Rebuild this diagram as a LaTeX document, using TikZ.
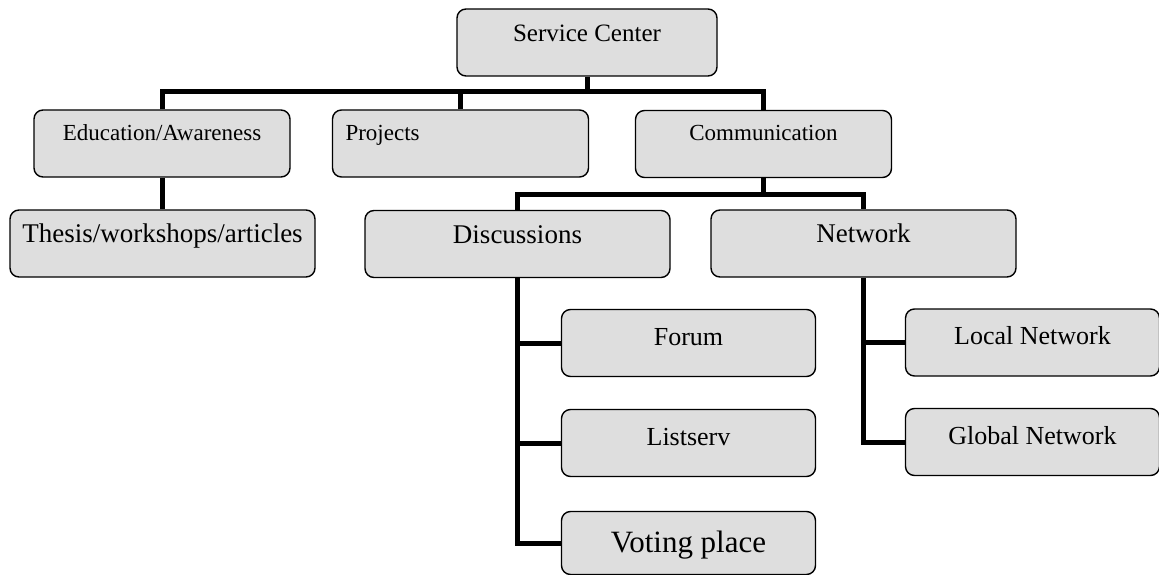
\documentclass[tikz,border=0pt]{standalone}
\usepackage{fontspec}
\setmainfont{Liberation Serif}
\usepackage{tikz}

\begin{document}
\begin{tikzpicture}[x=1pt,y=-1pt,
                    box/.style={draw, line width=1.4pt, rounded corners=9pt, fill=black!13,
                                minimum height=67pt, inner sep=3pt},
                    head/.style={box, minimum width=260pt, font=\fontsize{25}{30}\selectfont,
                                 text height=17pt, text depth=19.5pt},
                    area/.style={box, minimum width=256pt, font=\fontsize{23}{28}\selectfont,
                                 text height=16pt, text depth=23pt},
                    branch/.style={box, minimum width=305pt, font=\fontsize{27}{32}\selectfont,
                                   text height=19pt, text depth=21pt},
                    leaf/.style={box, minimum width=254pt, font=\fontsize{26}{31}\selectfont,
                                 text height=19pt, text depth=15pt},
                    link/.style={draw, line width=5pt}]
\useasboundingbox (0,0) rectangle (1159,575);
\node[head] (svc) at (587,42.5) {Service Center};
\node[area] (edu) at (162,143.5) {Education/Awareness};
\node[area, text width=230pt, align=left] (proj) at (460.5,143.5) {Projects};
\node[area] (comm) at (763.5,144) {Communication};
\node[branch] (thesis) at (162.5,243.5) {Thesis/workshops/articles};
\node[branch] (disc) at (517.5,244) {Discussions};
\node[branch] (net) at (863.5,243.5) {Network};
\node[leaf] (forum) at (688.5,343) {Forum};
\node[leaf] (lserv) at (688.5,443) {Listserv};
\node[leaf, minimum height=63pt, font=\fontsize{31}{36}\selectfont,
      text height=22pt, text depth=3.5pt] (vote) at (688.5,543) {Voting place};
\node[leaf] (local) at (1032.5,342.5) {Local Network};
\node[leaf] (global) at (1032.5,442) {Global Network};
\path (svc.south) ++(0,15) coordinate (bus);
\path (comm.south) ++(0,16) coordinate (fork);
\draw[link] (svc.south) -- (bus);
\draw[link] (edu.north) |- (bus) -| (comm.north);
\draw[link] (proj.north) -- (proj.north |- bus);
\draw[link] (edu.south) -- (edu.south |- thesis.north);
\draw[link] (comm.south) -- (fork);
\draw[link] (disc.north) |- (fork) -| (net.north);
\draw[link] (disc.south) |- (vote.west);
\draw[link] (forum.west) -- (forum.west -| disc.south);
\draw[link] (lserv.west) -- (lserv.west -| disc.south);
\draw[link] (net.south) |- (global.west);
\draw[link] (local.west) -- (local.west -| net.south);
\end{tikzpicture}
\end{document}
